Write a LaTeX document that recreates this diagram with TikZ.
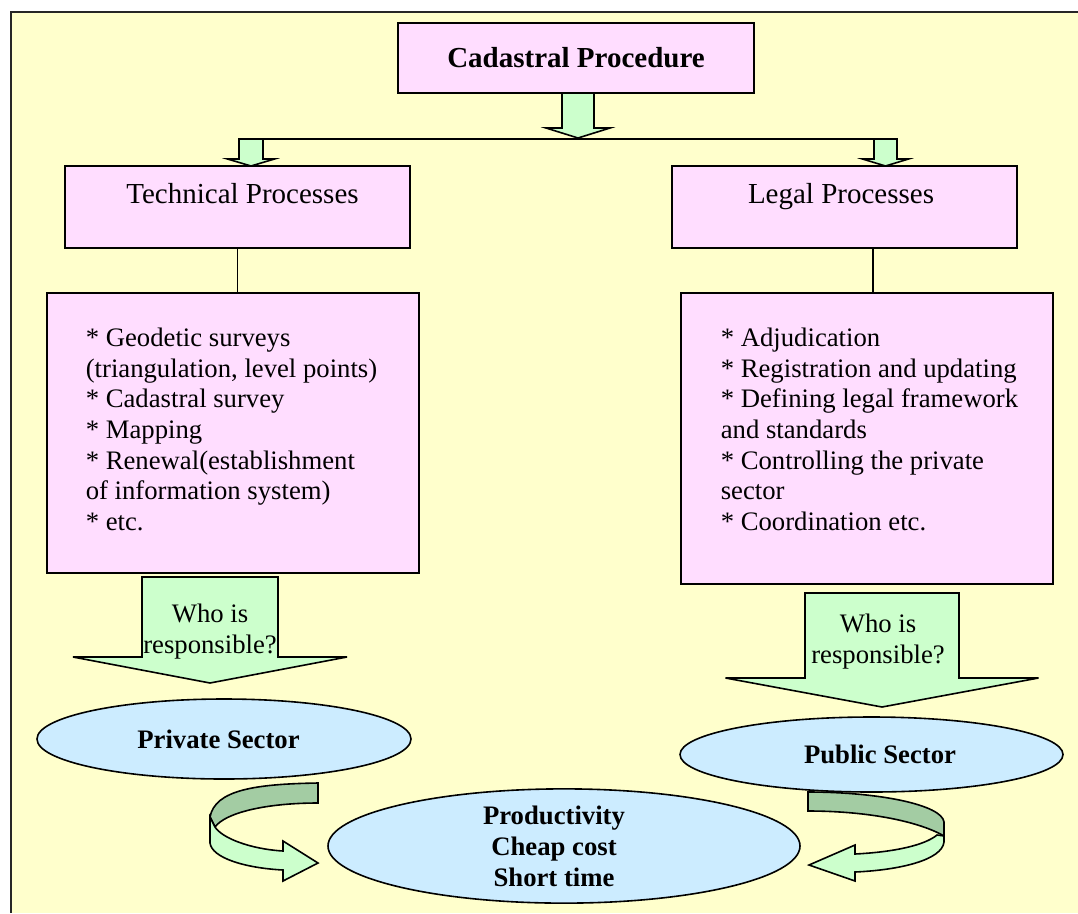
\documentclass[tikz,border=0pt]{standalone}
\usepackage{fontspec}
\setmainfont{Liberation Serif}
\usetikzlibrary{shapes.geometric}
\definecolor{bgyellow}{HTML}{FFFFCC}
\definecolor{boxpink}{HTML}{FFDDFF}
\definecolor{arrgreen}{HTML}{CCFFCC}
\definecolor{backgreen}{HTML}{A3CCA3}
\definecolor{ellblue}{HTML}{CCECFF}
% block arrow pointing down: x, top, half shaft, half head, head base, tip
\newcommand\blockdown[6]{%
	\draw[blockarrow] ({#1-#3},#2) -- ({#1+#3},#2) -- ({#1+#3},#5) -- ({#1+#4},#5) -- (#1,#6)
		-- ({#1-#4},#5) -- ({#1-#3},#5) -- cycle;}
\begin{document}
\begin{tikzpicture}[x=1pt,y=-1pt, line width=1.6pt, line join=miter,
	font=\fontsize{26.7}{30.7}\selectfont,
	box/.style={draw, fill=boxpink, inner sep=0pt},
	headfont/.style={font=\fontsize{29}{33}\selectfont},
	sector/.style={draw, fill=ellblue, ellipse, inner sep=0pt, font=\fontsize{26.7}{31}\selectfont\bfseries},
	blockarrow/.style={draw, fill=arrgreen},
	txt/.style={inner sep=0pt}]
	\useasboundingbox (0,0) rectangle (1078,913);
	\fill[bgyellow] (11,12) rectangle (1078,913);
	\draw[line width=2.2pt, draw=black!85] (11,913) -- (11,12) -- (1078,12);
	% top of the tree
	\node[box, font=\fontsize{29}{33}\selectfont\bfseries, minimum width=356, minimum height=70] (cad) at (576,58) {Cadastral Procedure};
	\node[box, headfont, minimum width=345, text height=37, text depth=45, anchor=base] (tech) at (237.5,203) {\kern10pt Technical Processes};
	\node[box, headfont, minimum width=345, text height=37, text depth=45, anchor=base] (legal) at (844.5,203) {Legal Processes\kern7pt};
	\coordinate (tl) at (251,139);
	\coordinate (tr) at (885.5,139);
	\draw ([xshift=-12pt]tl) -- ([xshift=12pt]tr);
	\blockdown{578}{93}{16}{32}{128}{138}
	\blockdown{251}{139}{12}{23.5}{159}{166}
	\blockdown{885.5}{139}{11.5}{23}{159}{166}
	% lists
	\node[box, minimum width=372, minimum height=280] (techlist) at (233,433) {};
	\node[box, minimum width=372, minimum height=291] (legallist) at (867,438.5) {};
	\node[txt, anchor=north west, align=left] (techtext) at (85,327) {* Geodetic surveys\\(triangulation, level points)\\* Cadastral survey\\* Mapping\\* Renewal(establishment\\of information system)\\* etc.};
	\node[txt, anchor=north west, align=left] (legaltext) at (720,327) {* Adjudication\\* Registration and updating\\* Defining legal framework\\and standards\\* Controlling the private\\sector\\* Coordination etc.};
	\draw (tech.south) -- (tech.south |- techlist.north);
	\coordinate (ljoin) at (873,0);
	\draw (legal.south -| ljoin) -- (legallist.north -| ljoin);
	% who is responsible?
	\blockdown{210}{577}{68}{137}{657}{683}
	\blockdown{882}{593}{77}{156.5}{678}{707}
	\node[txt, align=center, anchor=north] (whol) at (210,603) {Who is\\responsible?};
	\node[txt, align=center, anchor=north] (whor) at (878,613) {Who is\\responsible?};
	% sectors
	\node[sector, minimum width=374, minimum height=80] (private) at (224,739) {Private Sector\kern11pt};
	\node[sector, minimum width=383, minimum height=75] (public) at (871.5,754.5) {\kern17pt Public Sector};
	\node[sector, minimum width=472, minimum height=108, align=center] (result) at (564,846) {Productivity\kern20pt\\Cheap cost\kern20pt\\Short time\kern20pt};
	% curved arrows
	\draw[fill=backgreen] (318,783) .. controls (255,784) and (215,790) .. (210,817) -- (215,827)
		.. controls (225,813) and (265,803) .. (318,803) -- cycle;
	\draw[fill=arrgreen] (210,817) -- (210,843) .. controls (212,858) and (245,868) .. (283,870)
		-- (283,881) -- (318,863) -- (283,841) -- (283,851) .. controls (250,849) and (222,838) .. (215,827) -- cycle;
	\draw[fill=backgreen] (808,792) .. controls (880,792) and (942,805) .. (944,822) -- (944,836)
		.. controls (920,822) and (870,811) .. (808,811) -- cycle;
	\draw[fill=arrgreen] (944,836) -- (944,842) .. controls (942,860) and (900,870) .. (855,872)
		-- (855,881) -- (809,865) -- (855,845) -- (855,854) .. controls (895,852) and (925,845) .. (937,835) -- cycle;
\end{tikzpicture}
\end{document}
